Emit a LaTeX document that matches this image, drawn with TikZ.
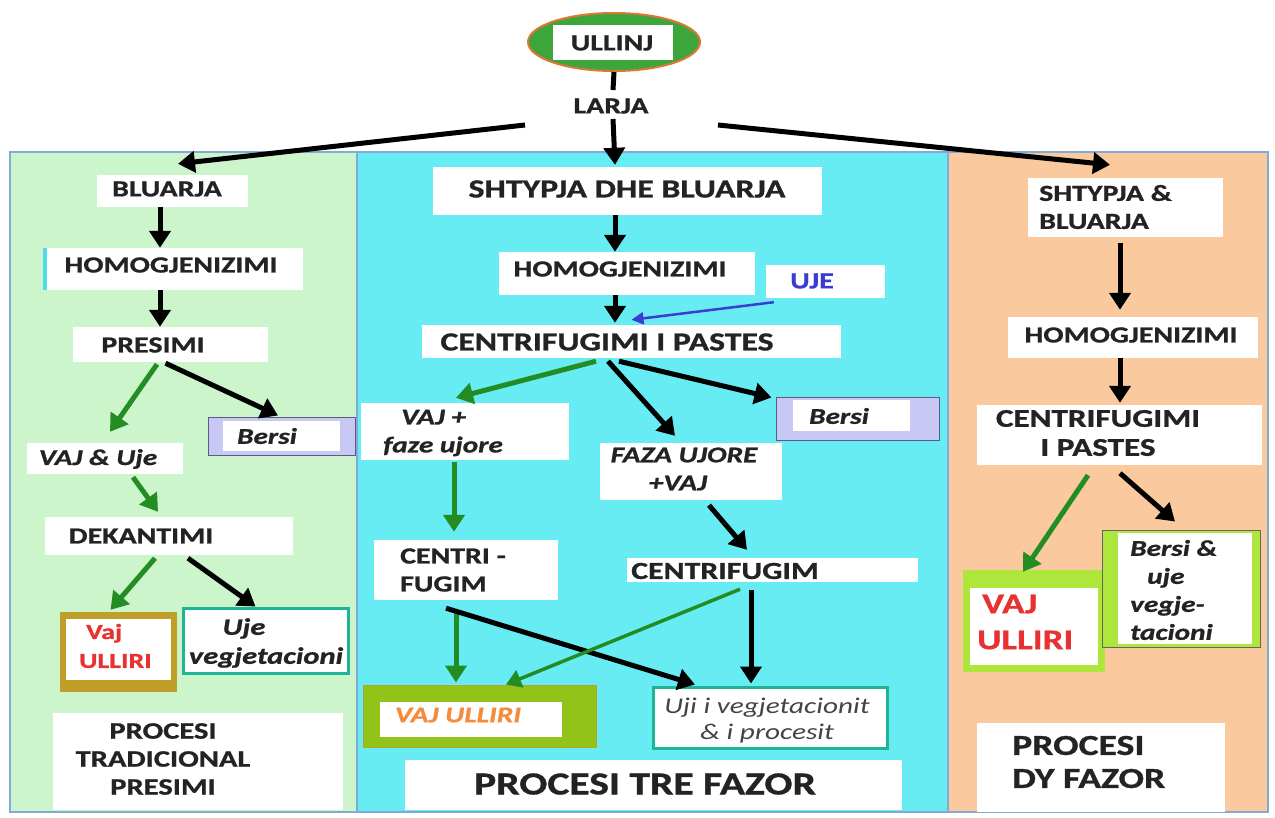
\documentclass[tikz,border=0pt]{standalone}
\usepackage{fontspec}
\setmainfont{Carlito}[FakeStretch=1.3, BoldFeatures={FakeBold=1}, BoldItalicFeatures={FakeBold=1}]
\usetikzlibrary{arrows.meta,shapes.geometric,fit,calc}
\definecolor{txt}{RGB}{35,35,35}
\definecolor{panelL}{RGB}{204,245,204}
\definecolor{panelM}{RGB}{102,236,242}
\definecolor{panelR}{RGB}{250,202,158}
\definecolor{edgeB}{RGB}{130,170,215}
\definecolor{agreen}{RGB}{35,140,35}
\definecolor{ellG}{RGB}{60,165,60}
\definecolor{ellO}{RGB}{220,120,50}
\definecolor{olive}{RGB}{190,160,40}
\definecolor{ygreen}{RGB}{145,195,25}
\definecolor{lgreen}{RGB}{175,230,60}
\definecolor{teal}{RGB}{30,180,150}
\definecolor{lav}{RGB}{200,200,245}
\definecolor{lavD}{RGB}{90,90,130}
\definecolor{redT}{RGB}{232,50,50}
\definecolor{orT}{RGB}{245,140,60}
\definecolor{blueT}{RGB}{60,60,210}
\definecolor{cyanS}{RGB}{80,220,235}
\begin{document}
\begin{tikzpicture}[x=1pt,y=-1pt,
  wbox/.style={fill=white, draw=none, inner sep=0pt},
  lbl/.style={font=\fontsize{23}{28}\selectfont\bfseries, text=txt, inner sep=0pt, align=center},
  ilbl/.style={font=\fontsize{22.5}{28}\selectfont\bfseries\itshape, text=txt, inner sep=0pt, align=left},
  blk/.style={draw=black, line width=5pt, -{Triangle[length=17pt,width=21pt]}},
  grn/.style={draw=agreen, line width=5pt, -{Triangle[length=17pt,width=21pt]}},
  grnthin/.style={draw=agreen, line width=3.5pt, -{Triangle[length=15pt,width=18pt]}},
  blu/.style={draw=blueT, line width=2.5pt, -{Triangle[length=12pt,width=12pt]}},
]
\useasboundingbox (0,0) rectangle (1275,817);
\fill[white] (0,0) rectangle (1275,817);
% panels
\fill[panelL] (10,152) rectangle (357,812);
\fill[panelM] (357,152) rectangle (948,812);
\fill[panelR] (948,152) rectangle (1268,812);
\draw[edgeB, line width=1.2pt] (10,152) rectangle (357,812);
\draw[edgeB, line width=1.2pt] (357,152) rectangle (948,812);
\draw[edgeB, line width=1.2pt] (948,152) rectangle (1268,812);

% top
\node[ellipse, fill=ellG, draw=ellO, line width=2pt, minimum width=172pt, minimum height=58pt, inner sep=0pt] (ull) at (614,42) {};
\node[wbox, fit={(553,25)(673,60)}] (ullW) {};
\node[lbl] (ullT) at (612,43) {ULLINJ};
\node[lbl] (larja) at (611,106) {LARJA};
\draw[black, line width=5pt] (ull.south) -- ([xshift=2pt,yshift=16pt]larja.center);

% ---------- left panel
\node[wbox, fit={(97,175)(248,207)}] (bluarja) {};
\node[lbl] (bluarjaT) at (167,189) {BLUARJA};
\node[wbox, fit={(43,248)(303,290)}] (homL) {};
\fill[cyanS] (homL.north west) rectangle ([xshift=4pt]homL.south west);
\node[lbl] (homLT) at (171,265) {HOMOGJENIZIMI};
\node[wbox, fit={(73,327)(268,362)}] (presimi) {};
\node[lbl] (presimiT) at (153,345) {PRESIMI};
\node[fill=lav, draw=lavD, line width=1pt, inner sep=0pt, fit={(208,417)(355,455)}] (bersiL) {};
\node[wbox, fit={(223,421)(340,451)}] (bersiLW) {};
\node[ilbl] (bersiLT) at (267,436) {Bersi};
\node[wbox, fit={(27,443)(183,474)}] (vajuje) {};
\node[ilbl] (vajujeT) at (98,459) {VAJ \& Uje};
\node[wbox, fit={(45,517)(293,555)}] (dek) {};
\node[lbl] (dekT) at (141,536) {DEKANTIMI};
\node[fill=olive, inner sep=0pt, fit={(60,612)(177,692)}] (vajL) {};
\node[wbox, fit={(66,619)(171,680)}] (vajLW) {};
\node[font=\fontsize{21.5}{29}\selectfont\bfseries, text=redT, inner sep=0pt, align=left, anchor=west] (vajLT) at (79,646) {\hspace*{7pt}Vaj\\ULLIRI};
\node[fill=white, draw=teal, line width=3pt, inner sep=0pt, fit={(183,608)(348,673)}] (ujeL) {};
\node[font=\fontsize{23.5}{29}\selectfont\bfseries\itshape, text=txt, inner sep=0pt, align=center] (ujeLT) at (266,643) {\hspace*{-44pt}Uje\\vegjetacioni};
\node[wbox, fit={(53,713)(343,810)}] (procL) {};
\node[lbl, font=\fontsize{23.5}{28}\selectfont\bfseries] (procLT) at (163,759) {PROCESI\\TRADICIONAL\\PRESIMI};

\draw[blk] ([xshift=-12.5pt]bluarja.south) -- ([xshift=-12.5pt]bluarja.south |- homL.north);
\draw[blk] ([xshift=-13pt]homL.south) -- ([xshift=-13pt]homL.south |- presimi.north);
\draw[grn] ([xshift=-13.5pt,yshift=-2pt]presimi.south) -- ([xshift=5pt,yshift=11pt]vajuje.north);
\draw[blk] ([xshift=-5pt,yshift=-1pt]presimi.south) -- ([xshift=-3.5pt,yshift=1pt]bersiL.north);
\draw[grn] ([xshift=28pt,yshift=-3pt]vajuje.south) -- ([xshift=-11pt,yshift=5pt]dek.north);
\draw[grn] ([xshift=-14pt,yshift=-3pt]dek.south) -- ([xshift=-8pt,yshift=2pt]vajL.north);
\draw[blk] ([xshift=19pt,yshift=-3pt]dek.south) -- ([xshift=-10pt]ujeL.north);

% ---------- middle panel
\node[wbox, fit={(433,167)(822,215)}] (shM) {};
\node[lbl, font=\fontsize{26}{30}\selectfont\bfseries] (shMT) at (627,189) {SHTYPJA DHE BLUARJA};
\node[wbox, fit={(499,252)(755,295)}] (homM) {};
\node[lbl] (homMT) at (620,269) {HOMOGJENIZIMI};
\node[wbox, fit={(766,265)(885,298)}] (uje) {};
\node[lbl, text=blueT] (ujeT) at (812,281) {UJE};
\node[wbox, fit={(422,325)(841,358)}] (cpM) {};
\node[lbl, font=\fontsize{26}{30}\selectfont\bfseries] (cpMT) at (607,342) {CENTRIFUGIMI I PASTES};
\node[wbox, fit={(361,403)(569,460)}] (vajM) {};
\node[ilbl, anchor=west] (vajMT) at (383,433) {\hspace*{18pt}VAJ +\\faze ujore};
\node[fill=lav, draw=lavD, line width=1pt, inner sep=0pt, fit={(776,397)(939,440)}] (bersiM) {};
\node[wbox, fit={(793,400)(910,431)}] (bersiMW) {};
\node[ilbl] (bersiMT) at (839,416) {Bersi};
\node[wbox, fit={(600,443)(782,500)}] (faza) {};
\node[ilbl, align=center] (fazaT) at (684,469) {FAZA UJORE\\\hspace*{-12pt}+VAJ};
\node[wbox, fit={(374,540)(558,600)}] (cfM) {};
\node[lbl, align=left, anchor=west] (cfMT) at (400,570) {CENTRI -\\FUGIM};
\node[wbox, fit={(627,558)(918,582)}] (cf2) {};
\node[lbl, font=\fontsize{24.5}{28}\selectfont\bfseries] (cf2T) at (725,571) {CENTRIFUGIM};
\node[fill=ygreen, draw=olive, line width=1pt, inner sep=0pt, fit={(363,685)(596,747)}] (vajUM) {};
\node[wbox, fit={(380,702)(562,737)}] (vajUMW) {};
\node[ilbl, text=orT] (vajUMT) at (458,715) {VAJ ULLIRI};
\node[fill=white, draw=teal, line width=3pt, inner sep=0pt, fit={(653,687)(887,748)}] (ujiM) {};
\node[font=\fontsize{22.5}{26}\selectfont\itshape, text=txt!85, inner sep=0pt, align=center] (ujiMT) at (767,721) {Uji i vegjetacionit\\\& i procesit};
\node[wbox, fit={(405,760)(902,810)}] (procM) {};
\node[lbl, font=\fontsize{32}{36}\selectfont\bfseries] (procMT) at (645,784) {PROCESI TRE FAZOR};

\draw[blk] ([xshift=2pt,yshift=-13pt]larja.center) -- ([xshift=-12.5pt,yshift=2pt]shM.north);
\draw[blk] ([xshift=-12.5pt]shM.south) -- ([xshift=-12.5pt]shM.south |- homM.north);
\draw[blu] ([xshift=8pt,yshift=-4pt]uje.south west) -- ([yshift=5pt]cpM.north);
\draw[blk] ([xshift=-12pt]homM.south) -- ([xshift=-12pt,yshift=2pt]homM.south |- cpM.north);
\draw[grn] ([xshift=-35.5pt,yshift=-3pt]cpM.south) -- ([xshift=-9pt,yshift=5pt]vajM.north);
\draw[blk] ([xshift=-23.5pt,yshift=-3pt]cpM.south) -- ([xshift=-16pt,yshift=7pt]faza.north);
\draw[blk] ([xshift=-12.5pt,yshift=-3pt]cpM.south) -- ([xshift=-4pt,yshift=-1pt]bersiM.north west);
\draw[grn] ([xshift=-11pt,yshift=-2pt]vajM.south) -- ([xshift=-12pt,yshift=8pt]cfM.north);
\draw[blk] ([xshift=18pt,yshift=-5pt]faza.south) -- ([xshift=-25.5pt,yshift=8pt]cf2.north);
\draw[grn] ([xshift=-10pt,yshift=-12pt]cfM.south) -- ([xshift=-23.5pt,yshift=2pt]vajUM.north);
\draw[blk] ([xshift=-20pt,yshift=-8pt]cfM.south) -- ([xshift=-75pt,yshift=1pt]ujiM.north);
\draw[grnthin] ([xshift=-32.5pt,yshift=-7pt]cf2.south) -- ([xshift=26.5pt]vajUM.north);
\draw[blk] ([xshift=-21.5pt,yshift=-8pt]cf2.south) -- ([xshift=-19pt,yshift=2pt]ujiM.north);

% ---------- right panel
\node[wbox, fit={(1028,178)(1223,237)}] (shR) {};
\node[lbl, align=left, anchor=west] (shRT) at (1039,207) {SHTYPJA \&\\BLUARJA};
\node[wbox, fit={(1008,317)(1258,358)}] (homR) {};
\node[lbl] (homRT) at (1131,335) {HOMOGJENIZIMI};
\node[wbox, fit={(977,405)(1262,465)}] (cpR) {};
\node[lbl, font=\fontsize{25.5}{29}\selectfont\bfseries] (cpRT) at (1098,433) {CENTRIFUGIMI\\I PASTES};
\node[fill=lgreen, inner sep=0pt, fit={(963,570)(1105,672)}] (vajR) {};
\node[wbox, fit={(970,588)(1098,665)}] (vajRW) {};
\node[font=\fontsize{28.5}{36}\selectfont\bfseries, text=redT, inner sep=0pt, align=left, anchor=west] (vajRT) at (977,622) {\hspace*{5pt}VAJ\\ULLIRI};
\node[fill=lgreen, draw=txt!70, line width=1pt, inner sep=0pt, fit={(1102,530)(1260,647)}] (bersiR) {};
\node[wbox, fit={(1118,533)(1252,644)}] (bersiRW) {};
\node[ilbl, anchor=west] (bersiRT) at (1130,590) {Bersi \&\\\hspace*{17pt}uje\\vegje-\\tacioni};
\node[wbox, fit={(977,723)(1225,812)}] (procR) {};
\node[lbl, align=left, anchor=west, font=\fontsize{29}{33}\selectfont\bfseries] (procRT) at (1012,762) {PROCESI\\DY FAZOR};

\draw[blk] ([xshift=-86pt,yshift=-19pt]larja.center) -- ([xshift=5.5pt,yshift=11pt]bluarja.north);
\draw[blk] ([xshift=107pt,yshift=-19pt]larja.center) -- ([xshift=-15.5pt,yshift=13pt]shR.north);
\draw[blk] ([xshift=-5.5pt,yshift=-6pt]shR.south) -- ([xshift=-13pt,yshift=7pt]homR.north);
\draw[blk] ([xshift=-13pt]homR.south) -- ([xshift=0.5pt,yshift=2pt]cpR.north);
\draw[grn] ([xshift=-31.5pt,yshift=-10pt]cpR.south) -- ([xshift=-11pt,yshift=-2pt]vajR.north);
\draw[blk] ([xshift=0.5pt,yshift=-8pt]cpR.south) -- ([xshift=-6pt,yshift=8pt]bersiR.north);
\end{tikzpicture}
\end{document}
